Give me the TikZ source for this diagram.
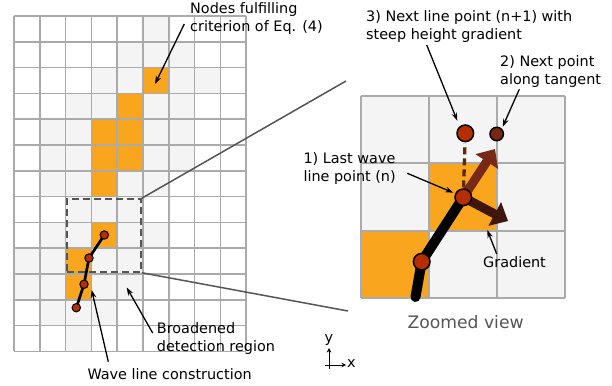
\documentclass[tikz,border=0pt]{standalone}
\usepackage{fontspec}
\setmainfont{DejaVu Sans}
\usetikzlibrary{arrows.meta, positioning}
\definecolor{cellorange}{RGB}{249,165,30}
\definecolor{celllight}{RGB}{244,244,244}
\definecolor{gridgrey}{RGB}{170,170,170}
\definecolor{zoomgrey}{RGB}{85,85,85}
\definecolor{pointred}{RGB}{180,46,0}
\definecolor{tanbrown}{RGB}{122,40,22}
\definecolor{gradbrown}{RGB}{62,22,12}
\definecolor{dashbrown}{RGB}{90,40,10}

\tikzset{
    note/.style={anchor=north west, align=left, inner sep=0pt},
    pointer/.style={-{Stealth[length=8pt,width=5.5pt]}, line width=1.3pt},
    gridline/.style={draw=gridgrey, line width=1.6pt},
    viewline/.style={draw=gridgrey, line width=2pt},
    zoomline/.style={draw=zoomgrey, line width=1.5pt},
    wavept/.style={draw=black, fill=pointred, line width=1pt},
    bigarrow/.style={line width=9pt, -{Triangle[length=15pt,width=26pt]}},
}

\begin{document}
\begin{tikzpicture}[x=1pt, y=-1pt, font=\fontsize{14.4}{18}\selectfont]
        \useasboundingbox (0,0) rectangle (612,385);
        \begin{scope}[shift={(14,16)}, x=25.8pt, y=-25.8pt]
            \foreach \c/\r in {5/0, 4/1, 5/1, 6/1, 3/2, 4/2, 6/2, 7/2, 2/3, 3/3, 5/3, 6/3,
                1/4, 2/4, 5/4, 6/4, 1/5, 2/5, 5/5, 6/5, 1/6, 2/6, 4/6, 5/6, 2/7, 3/7, 4/7,
                1/8, 2/8, 4/8, 5/8, 0/9, 1/9, 3/9, 4/9, 0/10, 1/10, 3/10, 4/10, 1/11, 2/11, 3/11, 2/12}
                \fill[celllight] (\c,\r) rectangle ++(1,1);
            \foreach \c/\r in {5/2, 4/3, 3/4, 4/4, 3/5, 4/5, 3/6, 3/8, 2/9, 2/10}
                \fill[cellorange] (\c,\r) rectangle ++(1,1);
            \foreach \c in {0,...,9}
                \draw[gridline] (\c,0) -- (\c,13);
            \foreach \r in {0,...,13}
                \draw[gridline] (0,\r) -- (9,\r);
        \end{scope}
        \node[draw=zoomgrey, line width=1.5pt, dash pattern=on 7pt off 4pt, inner sep=0pt,
            minimum width=74pt, minimum height=73pt] (src) at (104,235.5) {};
        \coordinate (w1) at (76.3,307.7);
        \coordinate (w2) at (84,284.3);
        \coordinate (w3) at (89,258);
        \coordinate (w4) at (104.3,235);
        \draw[line width=2.7pt, line join=round] (w1) -- (w2) -- (w3) -- (w4);
        \foreach \p in {w1,w2,w3,w4}
            \draw[wavept] (\p) circle(4.2pt);

        \begin{scope}[shift={(361,96)}, x=68pt, y=-67.3pt]
            \foreach \c/\r in {0/0, 1/0, 2/0, 0/1, 2/1, 1/2, 2/2}
                \fill[celllight] (\c,\r) rectangle ++(1,1);
            \foreach \c/\r in {1/1, 0/2}
                \fill[cellorange] (\c,\r) rectangle ++(1,1);
            \foreach \c in {0,...,3}
                \draw[viewline] (\c,0) -- (\c,3);
            \foreach \r in {0,...,3}
                \draw[viewline] (0,\r) -- (3,\r);
        \end{scope}
        \coordinate (viewtop) at (346,81);
        \coordinate (viewbot) at (348,311);
        \draw[zoomline] (src.north east) -- (viewtop);
        \draw[zoomline] (src.south east) -- (viewbot);

        \coordinate (zend) at (415.5,297);
        \coordinate (zp) at (421.7,261.7);
        \coordinate (zn) at (463.3,197.3);
        \coordinate (znext) at (465.3,133.3);
        \coordinate (ztan) at (496.7,134);
        \coordinate (gradtip) at (508,221);
        \coordinate (tantip) at (495,149);
        \draw[line width=10pt, line cap=round, line join=round] (zend) -- (zp) -- (zn);
        \draw[bigarrow, gradbrown] (zn) -- (gradtip);
        \draw[bigarrow, tanbrown] (zn) -- (tantip);
        \draw[dashbrown, line width=3.3pt, dash pattern=on 7pt off 4pt,
            shorten <=10pt, shorten >=10pt] (zn) -- (znext);
        \draw[wavept, line width=1.5pt] (zp) circle(8.3pt);
        \draw[wavept, line width=1.5pt] (zn) circle(8.3pt);
        \draw[wavept, line width=1.5pt] (znext) circle(8.3pt);
        \draw[draw=black, fill=tanbrown, line width=1.5pt] (ztan) circle(6.7pt);

        \node[note] (nodeslbl) at (190,2.4) {Nodes fulfilling\\criterion of Eq. (4)};
        \node[note] (nextlbl) at (366,10.8) {3) Next line point (n+1) with\\steep height gradient};
        \node[note] (tanlbl) at (500,55.8) {2) Next point\\along tangent};
        \node[note] (lastlbl) at (303.3,152.4) {1) Last wave\\line point (n)};
        \node[note] (gradlbl) at (483,256.4) {Gradient};
        \node[note] (broadlbl) at (156.7,322.4) {Broadened\\detection region};
        \node[note] (wavelbl) at (87.3,368) {Wave line construction};
        \node[note, text=zoomgrey, font=\fontsize{17.2}{20}\selectfont] (zoomlbl) at (407.3,315.2) {Zoomed view};

        \coordinate (a1) at (184.3,24);   \coordinate (b1) at (155,84);
        \coordinate (a2) at (108.3,361.7); \coordinate (b2) at (91.7,290);
        \coordinate (a3) at (152.7,333);  \coordinate (b3) at (126.7,287.5);
        \coordinate (a4) at (426.7,45);   \coordinate (b4) at (457.3,120.7);
        \coordinate (a5) at (519.3,89.3); \coordinate (b5) at (502.7,126.7);
        \coordinate (a6) at (407.3,173.3); \coordinate (b6) at (453.3,192.7);
        \coordinate (a7) at (496.7,254);  \coordinate (b7) at (487.3,230);
        \foreach \i in {1,...,7}
            \draw[pointer] (a\i) -- (b\i);

        \coordinate (ybase) at (329,369);
        \coordinate (ytip) at (329,348);
        \coordinate (xbase) at (325,365);
        \coordinate (xtip) at (346,365);
        \draw[line width=1pt, -{Stealth[length=4.5pt,width=4.5pt]}] (ybase) -- (ytip);
        \draw[line width=1pt, -{Stealth[length=4.5pt,width=4.5pt]}] (xbase) -- (xtip);
        \node[inner sep=0pt] (ylbl) at (329,340) {y};
        \node[inner sep=0pt] (xlbl) at (351.5,364) {x};
\end{tikzpicture}
\end{document}
